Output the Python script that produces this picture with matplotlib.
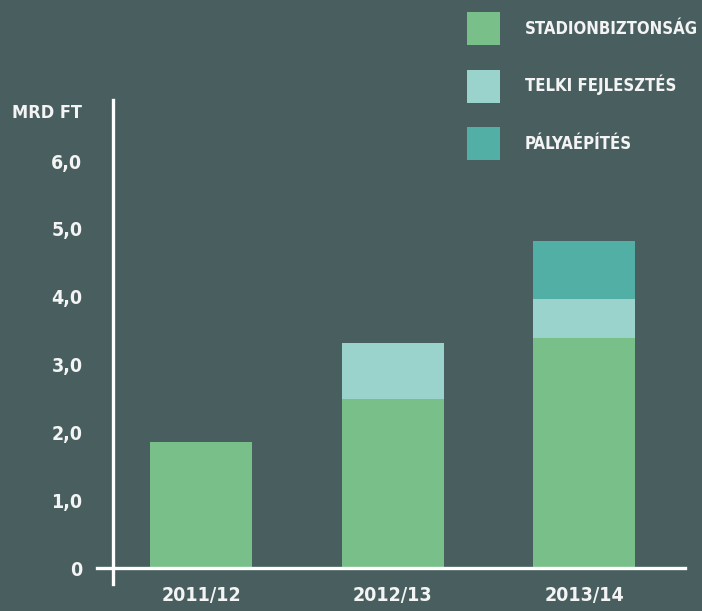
import matplotlib
matplotlib.use("Agg")
import matplotlib.pyplot as plt
from matplotlib.patches import Patch
import numpy as np

# ---- data ----
categories = ["2011/12", "2012/13", "2013/14"]
stadionbiztonsag = [1.86, 2.49, 3.39]
telki_fejlesztes = [0.0, 0.83, 0.58]
palyaepites = [0.0, 0.0, 0.86]
series_names = ["STADIONBIZTONSÁG", "TELKI FEJLESZTÉS", "PÁLYAÉPÍTÉS"]
ytick_values = [0, 1, 2, 3, 4, 5, 6]
ytick_labels = ["0", "1,0", "2,0", "3,0", "4,0", "5,0", "6,0"]
unit_label = "MRD FT"

# ---- style ----
BG = "#485e5f"
C_STADION = "#79bf89"
C_TELKI = "#9ad3cc"
C_PALYA = "#52afa5"
TXT = "#f4f4f4"
FONT = ["DejaVu Sans"]
plt.rcParams["font.family"] = FONT
plt.rcParams["font.weight"] = "bold"
plt.rcParams["font.stretch"] = "condensed"
FS = 14
LFS = 12

W, H = 702, 611
fig = plt.figure(figsize=(W / 100, H / 100), dpi=100, facecolor=BG)

left_px, right_px, top_px, bot_px = 97, 685, 100, 584
ax = fig.add_axes([left_px / W, (H - bot_px) / H,
                   (right_px - left_px) / W, (bot_px - top_px) / H])
ax.set_facecolor("none")

x = np.arange(len(categories))
xunit = 191.5
x0px = 201
ax.set_xlim((left_px - x0px) / xunit, (right_px - x0px) / xunit)
yunit = 67.8
y0px = 568
ax.set_ylim(-(bot_px - y0px) / yunit, (y0px - top_px) / yunit)

bw = 102 / xunit
s = np.array(stadionbiztonsag)
t = np.array(telki_fejlesztes)
p = np.array(palyaepites)
ax.bar(x, s, bw, color=C_STADION, zorder=1)
ax.bar(x, t, bw, bottom=s, color=C_TELKI, zorder=1)
ax.bar(x, p, bw, bottom=s + t, color=C_PALYA, zorder=1)

for k in ["top", "right"]:
    ax.spines[k].set_visible(False)
ax.spines["left"].set_position(("data", (113 - x0px) / xunit))
ax.spines["bottom"].set_position(("data", 0))
for k in ["left", "bottom"]:
    ax.spines[k].set_color("white")
    ax.spines[k].set_linewidth(2.4)
    ax.spines[k].set_zorder(3)

ax.set_yticks(ytick_values)
ax.set_yticklabels(ytick_labels)
ax.set_xticks(x)
ax.set_xticklabels(categories)
ax.tick_params(axis="y", length=0, pad=22, labelsize=FS, labelcolor=TXT)
ax.tick_params(axis="x", length=0, pad=13, labelsize=FS, labelcolor=TXT)
for lab in ax.get_xticklabels() + ax.get_yticklabels():
    lab.set_fontweight("bold")
    lab.set_fontstretch("condensed")

fig.text(82 / W, 1 - 113 / H, unit_label, ha="right", va="center",
         fontsize=13, color=TXT, fontweight="bold", fontstretch="condensed")

handles = [Patch(facecolor=C_STADION), Patch(facecolor=C_TELKI), Patch(facecolor=C_PALYA)]
leg = fig.legend(handles, series_names, loc="upper left",
                 bbox_to_anchor=(467 / W, 1 - 12 / H), frameon=False,
                 borderpad=0, borderaxespad=0, handlelength=1.98, handleheight=2.67,
                 handletextpad=1.5, labelspacing=1.47,
                 prop={"size": LFS, "weight": "bold", "family": FONT, "stretch": "condensed"})
for tx in leg.get_texts():
    tx.set_color(TXT)

fig.savefig("out.png", dpi=100, facecolor=BG)
